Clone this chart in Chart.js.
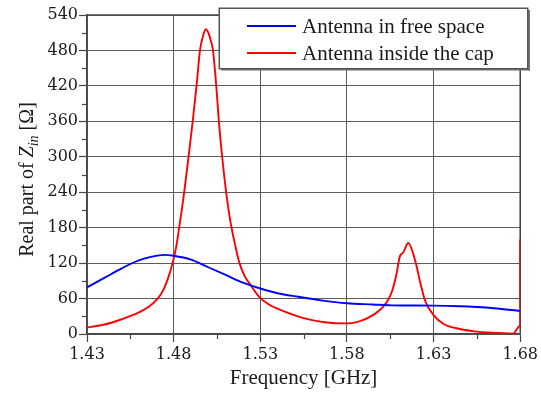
<!DOCTYPE html>
<html><head><meta charset="utf-8">
<script src="https://cdn.jsdelivr.net/npm/chart.js@4/dist/chart.umd.min.js"></script>
<style>html,body{margin:0;padding:0;background:#fff;}</style>
</head><body>
<canvas id="c" width="541" height="393"></canvas>
<script>
// ---- data ----
const seriesNames = ['Antenna in free space', 'Antenna inside the cap'];
const freeFreq = [1.430,1.440,1.450,1.455,1.4603,1.4675,1.4746,1.480,1.490,1.500,1.510,1.520,1.530,1.540,1.5519,1.565,1.580,1.595,1.6056,1.630,1.645,1.655,1.665,1.680];
const freeRe   = [79,95,111,118.5,125,131,134,132.5,126,113,100,87,77,69,63,57,52,50,48.5,48,47,45.6,43.5,39];
const capFreq = [1.430,1.440,1.450,1.4603,1.466,1.4708,1.4738,1.4765,1.4794,1.4815,1.4832,1.4861,1.4886,1.4910,1.4932,1.4952,1.4970,1.4985,1.5000,1.5015,1.5027,1.5046,1.5061,1.5080,1.5103,1.5118,1.5134,1.5157,1.5180,1.5210,1.5244,1.5296,1.535,1.5423,1.555,1.5671,1.580,1.5919,1.5995,1.6034,1.6060,1.6085,1.6105,1.6125,1.6154,1.6195,1.6224,1.6253,1.630,1.6358,1.6453,1.655,1.6644,1.6758,1.680,1.680];
const capRe   = [11,16,25,37,47,60,73,92,120,148,180,240,300,360,420,480,505,516,510,496,480,420,360,300,240,208,180,148,120,98,83,62,50,40,27,20,18,27,42,56,72,100,131,138,154,123,86,55,32,17,8.4,4,2.2,0.5,14,160];
const xTickLabels = ['1.43','1.48','1.53','1.58','1.63','1.68'];
const yTickLabels = ['0','60','120','180','240','300','360','420','480','540'];
const xTitle = 'Frequency [GHz]';
const yTitleParts = ['Real part of ', 'Z', 'in', ' [Ω]'];

const toPts = (xs, ys) => xs.map((x, i) => ({x: x, y: ys[i]}));
const GRID = '#5c5c5c', AXIS = '#454545', TXT = '#1a1a1a';

const framePlugin = {
  id: 'frame',
  beforeDatasetsDraw(chart) {
    const {ctx, chartArea: a} = chart;
    ctx.save();
    ctx.strokeStyle = AXIS; ctx.lineWidth = 1.5;
    ctx.beginPath();
    ctx.moveTo(a.left, a.top); ctx.lineTo(a.right, a.top); ctx.lineTo(a.right, a.bottom);
    ctx.stroke();
    // minor ticks
    const xs = chart.scales.x, ys = chart.scales.y;
    ctx.lineWidth = 1.2; ctx.strokeStyle = AXIS;
    for (let i = 0; i < xTickLabels.length - 1; i++) {
      const v = (parseFloat(xTickLabels[i]) + parseFloat(xTickLabels[i+1])) / 2;
      const px = Math.round(xs.getPixelForValue(v)) + 0.5;
      ctx.beginPath(); ctx.moveTo(px, a.bottom); ctx.lineTo(px, a.bottom + 5); ctx.stroke();
    }
    for (let i = 0; i < yTickLabels.length - 1; i++) {
      const v = (parseFloat(yTickLabels[i]) + parseFloat(yTickLabels[i+1])) / 2;
      const py = Math.round(ys.getPixelForValue(v)) + 0.5;
      ctx.beginPath(); ctx.moveTo(a.left, py); ctx.lineTo(a.left - 5, py); ctx.stroke();
    }
    ctx.restore();
  },
  afterDraw(chart) {
    const {ctx, chartArea: a} = chart;
    ctx.save();
    // y axis title with italic Z and subscript
    const big = '20px "Liberation Serif"', it = 'italic 20px "Liberation Serif"', sub = 'italic 14px "Liberation Serif"';
    const fonts = [big, it, sub, big];
    let widths = yTitleParts.map((t, i) => { ctx.font = fonts[i]; return ctx.measureText(t).width; });
    const total = widths.reduce((s, w) => s + w, 0);
    ctx.translate(33, (a.top + a.bottom) / 2 + 5);
    ctx.rotate(-Math.PI / 2);
    ctx.fillStyle = TXT; ctx.textBaseline = 'alphabetic'; ctx.textAlign = 'left';
    let x = -total / 2;
    yTitleParts.forEach((t, i) => {
      ctx.font = fonts[i];
      ctx.fillText(t, x, i === 2 ? 5 : 0);
      x += widths[i];
    });
    ctx.restore();

    // legend box
    ctx.save();
    ctx.fillStyle = '#777';
    ctx.fillRect(221, 68.5, 309, 2);
    ctx.fillRect(528, 10, 2, 60.5);
    ctx.fillStyle = '#fff';
    ctx.fillRect(219, 8, 309, 61);
    ctx.strokeStyle = '#555'; ctx.lineWidth = 1.5;
    ctx.strokeRect(219.25, 8.25, 308.5, 60.5);
    const cols = chart.data.datasets.map(d => d.borderColor);
    const rows = [26, 53], bases = [33.3, 60];
    ctx.font = '21px "Liberation Serif"'; ctx.fillStyle = TXT; ctx.textBaseline = 'alphabetic';
    chart.data.datasets.forEach((d, i) => {
      ctx.strokeStyle = cols[i]; ctx.lineWidth = 2;
      ctx.beginPath(); ctx.moveTo(247, rows[i]); ctx.lineTo(296, rows[i]); ctx.stroke();
      ctx.fillText(d.label, 302, bases[i]);
    });
    ctx.restore();
  }
};

new Chart(document.getElementById('c'), {
  type: 'line',
  data: {
    datasets: [
      {label: seriesNames[0], data: toPts(freeFreq, freeRe), borderColor: '#0000ff', borderWidth: 1.9,
       pointRadius: 0, cubicInterpolationMode: 'monotone', fill: false},
      {label: seriesNames[1], data: toPts(capFreq, capRe), borderColor: '#ff0000', borderWidth: 1.9,
       pointRadius: 0, cubicInterpolationMode: 'monotone', fill: false}
    ]
  },
  options: {
    responsive: false, animation: false, devicePixelRatio: 1,
    layout: {padding: {left: 0, right: 17, top: 15, bottom: 0}},
    plugins: {legend: {display: false}, tooltip: {enabled: false}},
    scales: {
      x: {
        type: 'linear', min: 1.43, max: 1.68,
        afterBuildTicks: s => { s.ticks = xTickLabels.map(v => ({value: parseFloat(v)})); },
        afterFit: s => { s.height = 59; },
        ticks: {callback: (v, i) => xTickLabels[i], font: {family: 'DejaVu Serif', size: 16}, color: TXT,
                padding: 3, maxRotation: 0, autoSkip: false},
        grid: {color: GRID, lineWidth: 1, drawTicks: true, tickLength: 8, tickColor: AXIS, tickWidth: 1.2},
        border: {color: AXIS, width: 1.5},
        title: {display: true, text: xTitle, color: TXT, font: {family: 'Liberation Serif', size: 21},
                padding: {top: 0, bottom: 2}}
      },
      y: {
        type: 'linear', min: 0, max: 540,
        afterBuildTicks: s => { s.ticks = yTickLabels.map(v => ({value: parseFloat(v)})); },
        afterFit: s => { s.width = 87; },
        ticks: {callback: (v, i) => yTickLabels[i], font: {family: 'DejaVu Serif', size: 16}, color: TXT,
                padding: 1, autoSkip: false},
        grid: {color: GRID, lineWidth: 1, drawTicks: true, tickLength: 8, tickColor: AXIS, tickWidth: 1.2},
        border: {color: AXIS, width: 1.5}
      }
    }
  },
  plugins: [framePlugin]
});
</script>
</body></html>
